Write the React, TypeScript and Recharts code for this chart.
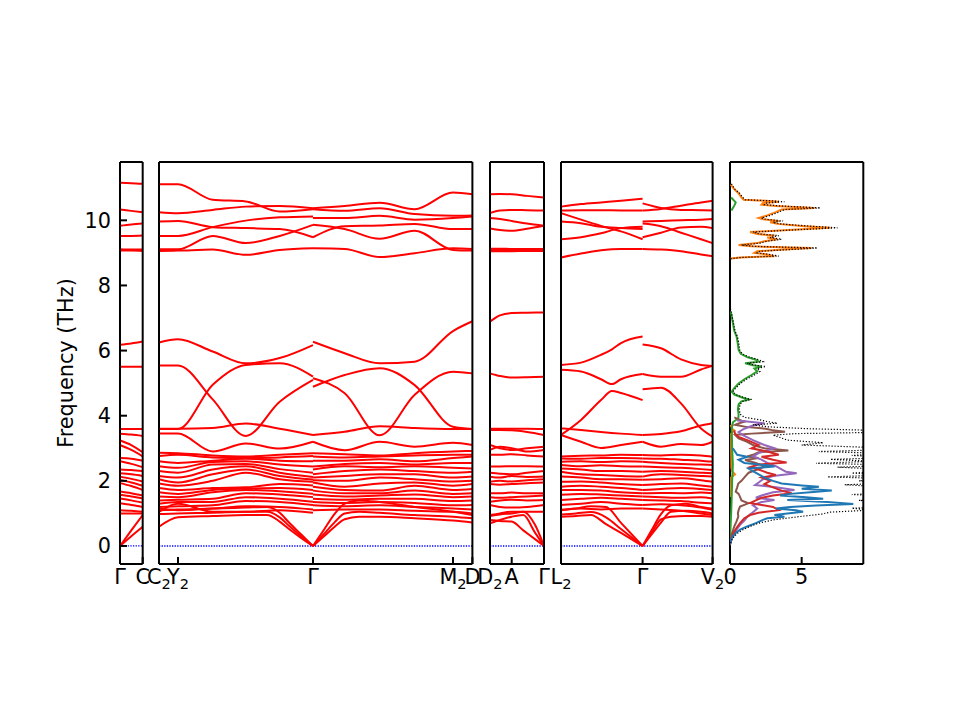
import React from 'react';
import { LineChart, Line, XAxis, YAxis, ReferenceLine, ScatterChart, Scatter } from 'recharts';

// Phonon band structure + projected DOS

const FONT = 'DejaVu Sans';
const FREQ_DOMAIN: [number, number] = [-0.553, 11.79];
const freqTicks = [0, 2, 4, 6, 8, 10];

// ---- panel 1 : Γ - C ----
const kP1 = [0, 0.113, 0.227];
const p1Ticks = [0, 0.227];
const p1Labels = ['Γ', 'C'];
const p1Bands = [
  [11.15, 11.14, 11.12],
  [10.33, 10.29, 10.25],
  [9.83, 9.87, 9.9],
  [9.52, 9.52, 9.53],
  [9.11, 9.1, 9.1],
  [9.07, 9.07, 9.06],
  [6.18, 6.22, 6.28],
  [5.5, 5.5, 5.5],
  [3.59, 3.59, 3.59],
  [3.45, 3.42, 3.38],
  [3.24, 3.1, 2.88],
  [3.1, 2.95, 2.75],
  [2.7, 2.68, 2.62],
  [2.6, 2.52, 2.42],
  [2.35, 2.33, 2.3],
  [2.23, 2.2, 2.15],
  [2.13, 2.06, 1.98],
  [2.03, 1.95, 1.85],
  [1.93, 1.84, 1.72],
  [1.67, 1.62, 1.55],
  [1.57, 1.52, 1.46],
  [1.46, 1.4, 1.33],
  [1.31, 1.26, 1.2],
  [1.1, 1.08, 1.05],
  [1.0, 1.0, 1.0],
  [0, 0.48, 0.95],
  [0, 0.3, 0.59],
];

// ---- panel 2 : C2 - Y2 - Γ - M2 - D ----
const p2Ticks = [0, 0.19, 1.54, 2.94, 3.134];
const p2Labels = ['C_2', 'Y_2', 'Γ', 'M_2', 'D'];
const kP2Left = [0, 0.19, 0.537, 0.867, 1.207, 1.54];
const p2LeftBands = [
  [11.11, 11.11, 10.63, 10.58, 10.27, 10.34],
  [10.25, 10.22, 10.32, 10.42, 10.44, 10.37],
  [9.96, 9.98, 9.79, 9.76, 9.73, 9.48],
  [9.52, 9.52, 9.79, 9.99, 10.09, 10.12],
  [9.11, 9.11, 9.52, 9.3, 9.52, 9.86],
  [9.06, 9.07, 9.1, 8.94, 9.09, 9.14],
  [6.25, 6.35, 5.97, 5.61, 5.77, 6.17],
  [5.54, 5.54, 4.5, 3.38, 4.43, 5.1],
  [3.59, 3.59, 4.95, 5.56, 5.61, 5.2],
  [3.6, 3.6, 3.62, 3.76, 3.6, 3.41],
  [3.45, 3.45, 2.9, 3.15, 2.99, 3.2],
  [2.86, 2.85, 2.78, 2.75, 2.8, 2.85],
  [2.76, 2.8, 2.72, 2.7, 2.72, 2.76],
  [2.6, 2.55, 2.62, 2.68, 2.62, 2.6],
  [2.45, 2.4, 2.58, 2.6, 2.5, 2.44],
  [2.3, 2.25, 2.5, 2.52, 2.36, 2.25],
  [2.15, 2.1, 2.35, 2.45, 2.25, 2.12],
  [2.05, 1.95, 2.2, 2.35, 2.15, 2.04],
  [1.92, 1.85, 2.0, 2.25, 2.05, 1.97],
  [1.78, 1.72, 1.78, 1.8, 1.9, 1.86],
  [1.65, 1.6, 1.72, 1.76, 1.78, 1.72],
  [1.52, 1.5, 1.65, 1.72, 1.68, 1.6],
  [1.4, 1.42, 1.45, 1.62, 1.58, 1.5],
  [1.3, 1.35, 1.35, 1.5, 1.45, 1.36],
  [1.2, 1.22, 1.25, 1.38, 1.35, 1.26],
  [1.1, 1.12, 1.15, 1.22, 1.2, 1.12],
  [1.05, 1.3, 1.05, 1.05, 1.1, 1.02],
];
const kP2LeftAcoustic = [0, 0.19, 0.537, 0.867, 1.08, 1.207, 1.3, 1.42, 1.54];
const p2LeftAcoustic = [
  [0.59, 0.88, 0.92, 0.95, 0.95, 0.75, 0.52, 0.25, 0],
  [0.98, 1.0, 1.02, 1.05, 1.05, 0.88, 0.62, 0.3, 0],
  [1.15, 1.1, 1.15, 1.18, 1.2, 1.02, 0.72, 0.36, 0],
];
const kP2Right = [1.54, 1.857, 2.207, 2.557, 2.94, 3.134];
const p2RightBands = [
  [10.37, 10.44, 10.54, 10.34, 10.85, 10.8],
  [10.34, 10.29, 10.37, 10.19, 10.14, 10.15],
  [10.07, 10.07, 10.14, 10.02, 10.07, 10.12],
  [9.48, 9.82, 9.84, 9.89, 9.73, 9.73],
  [9.86, 9.73, 9.43, 9.68, 9.09, 9.07],
  [9.14, 9.12, 8.87, 8.99, 9.14, 9.12],
  [6.27, 5.92, 5.61, 5.66, 6.6, 6.9],
  [5.15, 4.69, 3.4, 4.64, 5.35, 5.3],
  [4.89, 5.25, 5.46, 4.94, 3.66, 3.59],
  [3.41, 3.51, 3.68, 3.62, 3.59, 3.59],
  [3.2, 2.94, 3.2, 3.05, 3.17, 3.1],
  [2.85, 2.82, 2.78, 2.85, 2.9, 2.92],
  [2.75, 2.72, 2.75, 2.78, 2.8, 2.8],
  [2.62, 2.62, 2.66, 2.6, 2.7, 2.75],
  [2.44, 2.52, 2.55, 2.5, 2.55, 2.55],
  [2.35, 2.45, 2.42, 2.45, 2.4, 2.38],
  [2.2, 2.3, 2.35, 2.3, 2.25, 2.28],
  [2.1, 2.15, 2.2, 2.2, 2.1, 2.13],
  [2.02, 2.0, 2.1, 2.05, 1.98, 2.0],
  [1.95, 1.82, 1.92, 1.95, 1.85, 1.9],
  [1.82, 1.72, 1.7, 1.85, 1.72, 1.75],
  [1.7, 1.62, 1.62, 1.7, 1.6, 1.62],
  [1.58, 1.52, 1.55, 1.58, 1.5, 1.52],
  [1.45, 1.42, 1.45, 1.45, 1.38, 1.4],
  [1.35, 1.32, 1.35, 1.32, 1.25, 1.26],
  [1.25, 1.22, 1.25, 1.2, 1.15, 1.12],
  [1.1, 1.12, 1.12, 1.08, 1.05, 1.0],
];
const kP2RightAcoustic = [1.54, 1.65, 1.76, 1.857, 2.0, 2.207, 2.557, 2.94, 3.134];
const p2RightAcoustic = [
  [0, 0.3, 0.6, 0.82, 0.9, 0.9, 0.85, 0.78, 0.72],
  [0, 0.37, 0.74, 1.0, 1.05, 1.02, 0.95, 0.9, 0.85],
  [0, 0.5, 1.0, 1.3, 1.4, 1.35, 1.2, 1.05, 0.95],
];

// ---- panel 3 : D2 - A - Γ ----
const p3Ticks = [0, 0.217, 0.54];
const p3Labels = ['D_2', 'A', 'Γ'];
const kP3 = [0, 0.1, 0.217, 0.37, 0.54];
const p3Bands = [
  [10.8, 10.81, 10.8, 10.75, 10.7],
  [10.22, 10.3, 10.32, 10.31, 10.3],
  [10.07, 10.04, 9.98, 9.9, 9.83],
  [9.75, 9.7, 9.68, 9.74, 9.83],
  [9.13, 9.13, 9.12, 9.12, 9.12],
  [9.09, 9.09, 9.08, 9.09, 9.09],
  [9.05, 9.05, 9.05, 9.06, 9.06],
  [6.89, 7.08, 7.15, 7.16, 7.17],
  [5.3, 5.22, 5.17, 5.18, 5.2],
  [3.6, 3.6, 3.6, 3.6, 3.59],
  [3.56, 3.56, 3.55, 3.5, 3.41],
  [3.1, 3.0, 2.95, 3.0, 3.05],
  [2.95, 3.05, 3.0, 2.9, 2.95],
  [2.8, 2.8, 2.82, 2.78, 2.75],
  [2.44, 2.44, 2.45, 2.45, 2.44],
  [2.25, 2.22, 2.2, 2.25, 2.3],
  [2.13, 2.1, 2.15, 2.12, 2.13],
  [1.97, 2.0, 1.98, 2.02, 2.05],
  [1.9, 1.88, 1.9, 1.93, 1.95],
  [1.62, 1.62, 1.64, 1.62, 1.62],
  [1.5, 1.48, 1.5, 1.52, 1.55],
  [1.36, 1.4, 1.42, 1.4, 1.41],
  [1.26, 1.2, 1.18, 1.2, 1.26],
  [0.95, 1.0, 1.05, 1.05, 1.05],
];
const kP3Acoustic = [0, 0.1, 0.217, 0.333, 0.45, 0.54];
const p3Acoustic = [
  [0.8, 0.77, 0.75, 0.48, 0.21, 0],
  [0.7, 0.8, 0.9, 0.95, 0.41, 0],
  [0.92, 0.97, 1.0, 1.05, 0.65, 0],
];

// ---- panel 4 : L2 - Γ - V2 ----
const p4Ticks = [0, 0.816, 1.516];
const p4Labels = ['L_2', 'Γ', 'V_2'];
const kP4Left = [0, 0.2, 0.4, 0.6, 0.816];
const p4LeftBands = [
  [10.42, 10.5, 10.55, 10.6, 10.66],
  [10.3, 10.31, 10.31, 10.3, 10.3],
  [10.22, 10.02, 9.83, 9.66, 9.42],
  [9.96, 9.91, 9.8, 9.76, 9.73],
  [9.42, 9.48, 9.6, 9.76, 9.8],
  [8.86, 8.98, 9.08, 9.12, 9.12],
  [3.61, 3.56, 3.5, 3.45, 3.41],
  [3.41, 3.2, 3.01, 3.1, 3.2],
  [2.75, 2.77, 2.78, 2.8, 2.79],
  [2.69, 2.68, 2.7, 2.7, 2.69],
  [2.59, 2.6, 2.58, 2.6, 2.59],
  [2.49, 2.45, 2.48, 2.45, 2.44],
  [2.38, 2.35, 2.3, 2.3, 2.28],
  [2.28, 2.2, 2.18, 2.15, 2.13],
  [2.13, 2.1, 2.05, 2.05, 2.03],
  [1.97, 1.98, 1.95, 1.9, 1.87],
  [1.82, 1.85, 1.82, 1.78, 1.72],
  [1.72, 1.72, 1.7, 1.65, 1.62],
  [1.57, 1.6, 1.58, 1.55, 1.52],
  [1.41, 1.45, 1.48, 1.45, 1.41],
  [1.26, 1.3, 1.35, 1.3, 1.26],
  [1.11, 1.15, 1.12, 1.15, 1.15],
];
const kP4LeftMid = [0, 0.2, 0.4, 0.51, 0.6, 0.816];
const p4LeftMid = [
  [5.56, 5.63, 5.87, 6.04, 6.23, 6.43],
  [5.41, 5.36, 5.12, 4.97, 5.12, 5.28],
  [3.41, 3.87, 4.48, 4.76, 4.7, 4.48],
];
const kP4LeftAcoustic = [0, 0.15, 0.3, 0.45, 0.6, 0.816];
const p4LeftAcoustic = [
  [0.9, 0.92, 0.95, 0.67, 0.4, 0],
  [0.97, 1.0, 1.04, 0.88, 0.52, 0],
  [1.1, 1.15, 1.22, 1.2, 0.71, 0],
];
const kP4Right = [0.816, 1.0, 1.2, 1.4, 1.516];
const p4RightBands = [
  [10.52, 10.38, 10.32, 10.31, 10.3],
  [10.3, 10.35, 10.45, 10.55, 10.6],
  [9.96, 9.98, 10.0, 10.02, 10.04],
  [9.48, 9.62, 9.78, 9.8, 9.76],
  [9.9, 9.82, 9.62, 9.42, 9.3],
  [9.12, 9.1, 9.05, 8.95, 8.9],
  [6.19, 6.07, 5.73, 5.56, 5.53],
  [4.81, 4.86, 4.38, 3.61, 3.36],
  [5.28, 5.2, 5.2, 5.42, 5.53],
  [3.41, 3.44, 3.52, 3.7, 3.77],
  [3.2, 3.05, 3.13, 3.1, 3.2],
  [2.79, 2.78, 2.8, 2.78, 2.74],
  [2.69, 2.68, 2.65, 2.62, 2.59],
  [2.59, 2.55, 2.52, 2.5, 2.49],
  [2.44, 2.42, 2.4, 2.36, 2.33],
  [2.28, 2.3, 2.28, 2.25, 2.23],
  [2.13, 2.2, 2.18, 2.15, 2.13],
  [2.03, 2.05, 2.08, 2.02, 1.97],
  [1.87, 1.9, 1.92, 1.86, 1.82],
  [1.72, 1.75, 1.78, 1.75, 1.72],
  [1.62, 1.63, 1.62, 1.64, 1.62],
  [1.52, 1.5, 1.48, 1.5, 1.46],
  [1.41, 1.4, 1.38, 1.33, 1.31],
  [1.26, 1.28, 1.25, 1.18, 1.11],
  [1.15, 1.12, 1.08, 1.0, 0.95],
];
const kP4RightAcoustic = [0.816, 0.9, 1.0, 1.1, 1.25, 1.4, 1.516];
const p4RightAcoustic = [
  [0, 0.38, 0.82, 0.9, 0.92, 0.92, 0.9],
  [0, 0.33, 0.72, 1.05, 1.08, 1.05, 1.0],
  [0, 0.45, 0.98, 1.25, 1.3, 1.2, 1.15],
];

// ---- DOS panel: [frequency, dos] ----
const DOS_MAX = 9.3;
const dosTicks = [0, 5];
const dosLabels = ['0', '5'];
const dosTotal: [number, number][] = [
  [11.12, 0.1], [10.95, 0.35], [10.84, 0.65], [10.7, 0.9], [10.63, 1.05], [10.6, 2.8], [10.57, 3.8],
  [10.53, 2.5], [10.48, 2.4], [10.44, 3.5], [10.38, 6.3], [10.33, 3.8], [10.25, 3.4], [10.15, 2.8],
  [10.07, 2.2], [10.03, 2.5], [9.98, 3.7], [9.94, 3.0], [9.89, 3.5], [9.82, 5.6], [9.77, 7.5],
  [9.71, 4.7], [9.64, 1.6], [9.58, 2.1], [9.53, 3.4], [9.47, 2.8], [9.42, 3.6], [9.36, 2.6],
  [9.3, 2.1], [9.24, 0.8], [9.2, 1.7], [9.15, 6.1], [9.1, 4.1], [9.05, 2.1], [9.0, 1.9],
  [8.95, 2.8], [8.9, 3.4], [8.86, 0.8], [8.82, 0.05], [8.7, 0], [7.35, 0],
  [7.15, 0.1], [6.9, 0.22], [6.6, 0.35], [6.43, 0.52], [6.2, 0.62], [6.02, 0.68], [5.9, 0.85],
  [5.8, 1.35], [5.72, 2.0], [5.66, 2.3], [5.61, 1.2], [5.55, 1.8], [5.51, 2.5], [5.45, 1.9],
  [5.36, 2.1], [5.25, 1.7], [5.12, 1.15], [4.98, 0.7], [4.85, 0.4], [4.74, 0.2], [4.65, 0.4],
  [4.55, 1.0], [4.5, 1.5], [4.44, 0.9], [4.35, 0.7], [4.2, 0.65], [4.05, 0.7], [3.95, 1.0],
  [3.88, 2.0], [3.82, 2.6], [3.77, 3.3], [3.72, 1.6], [3.66, 2.6], [3.6, 5.5], [3.55, 10],
  [3.5, 12], [3.45, 4.5], [3.4, 3.0], [3.33, 3.5], [3.25, 4.0], [3.17, 6.5], [3.1, 5.0],
  [3.03, 9.5], [2.97, 12], [2.9, 6.2], [2.84, 11], [2.78, 8.5], [2.72, 12], [2.66, 7.0],
  [2.6, 10], [2.54, 6.0], [2.48, 12], [2.42, 7.5], [2.36, 10.5], [2.3, 12], [2.24, 8.5],
  [2.18, 11], [2.12, 6.8], [2.06, 12], [2.0, 9.0], [1.94, 12], [1.88, 8.0], [1.82, 10.5],
  [1.76, 12], [1.7, 9.5], [1.64, 12], [1.58, 8.5], [1.52, 11.5], [1.46, 12], [1.4, 9.0],
  [1.34, 12], [1.28, 10], [1.22, 12], [1.16, 8.5], [1.1, 9.8], [1.04, 7.0], [0.98, 6.4],
  [0.9, 4.8], [0.8, 3.0], [0.7, 2.0], [0.6, 1.4], [0.5, 0.9], [0.4, 0.55], [0.3, 0.3],
  [0.2, 0.15], [0.1, 0.05], [0, 0],
];
const pdosOrangeHigh: [number, number][] = [
  [11.1, 0.05], [10.95, 0.3], [10.84, 0.58], [10.7, 0.8], [10.63, 0.95], [10.6, 2.5], [10.57, 3.4],
  [10.53, 2.3], [10.48, 2.2], [10.44, 3.2], [10.38, 5.9], [10.33, 3.6], [10.25, 3.2], [10.15, 2.6],
  [10.07, 2.0], [10.03, 2.3], [9.98, 3.4], [9.94, 2.8], [9.89, 3.3], [9.82, 5.2], [9.77, 7.0],
  [9.71, 4.4], [9.64, 1.4], [9.58, 1.9], [9.53, 3.1], [9.47, 2.6], [9.42, 3.3], [9.36, 2.4],
  [9.3, 1.9], [9.24, 0.6], [9.2, 1.5], [9.15, 5.7], [9.1, 3.8], [9.05, 1.9], [9.0, 1.7],
  [8.95, 2.6], [8.9, 3.1], [8.86, 0.7], [8.83, 0.05],
];
const pdosOrangeLow: [number, number][] = [
  [3.72, 0.05], [3.6, 0.15], [3.55, 0.3], [3.45, 0.08], [3.0, 0.08], [2.4, 0.1], [2.3, 0.15],
  [2.2, 0.35], [2.1, 0.08], [1.5, 0.06],
];
const pdosGreenHigh: [number, number][] = [
  [10.7, 0.08], [10.55, 0.4], [10.45, 0.3], [10.3, 0.1],
];
const pdosGreen: [number, number][] = [
  [7.2, 0.03], [7.15, 0.08],
  [6.9, 0.18], [6.6, 0.3], [6.43, 0.46], [6.2, 0.55], [6.02, 0.6], [5.9, 0.75], [5.8, 1.2],
  [5.72, 1.8], [5.66, 2.0], [5.61, 1.05], [5.55, 1.6], [5.51, 2.2], [5.45, 1.7], [5.36, 1.9],
  [5.25, 1.5], [5.12, 1.0], [4.98, 0.58], [4.85, 0.3], [4.74, 0.12], [4.65, 0.3], [4.55, 0.9],
  [4.5, 1.3], [4.44, 0.8], [4.35, 0.6], [4.2, 0.55], [4.05, 0.6], [3.92, 0.58], [3.8, 0.2],
  [3.6, 0.12], [3.0, 0.15], [2.5, 0.2], [2.0, 0.15], [1.5, 0.12], [1.0, 0.08], [0.5, 0.03], [0, 0],
];
const pdosBlue: [number, number][] = [
  [3.0, 0.2], [2.8, 0.5], [2.74, 1.2], [2.65, 0.6], [2.55, 1.0], [2.48, 2.6], [2.44, 3.1],
  [2.38, 1.3], [2.3, 1.6], [2.2, 2.0], [2.1, 2.4], [2.0, 3.0], [1.92, 3.6], [1.86, 5.0],
  [1.82, 6.2], [1.76, 5.0], [1.7, 7.1], [1.65, 5.6], [1.6, 4.2], [1.55, 3.5], [1.5, 5.3],
  [1.45, 6.5], [1.41, 4.0], [1.35, 6.8], [1.29, 8.6], [1.24, 6.0], [1.2, 4.2], [1.15, 3.2],
  [1.1, 4.6], [1.05, 5.1], [1.0, 4.0], [0.95, 3.1], [0.9, 3.8], [0.85, 2.6], [0.8, 2.3],
  [0.7, 1.8], [0.6, 1.2], [0.5, 0.7], [0.4, 0.4], [0.3, 0.2], [0.2, 0.08], [0.05, 0],
];
const pdosRed: [number, number][] = [
  [3.55, 0.3], [3.45, 0.35], [3.35, 0.6], [3.25, 1.2], [3.1, 2.0], [3.0, 1.5], [2.9, 2.6],
  [2.8, 3.4], [2.74, 2.2], [2.65, 3.0], [2.56, 3.95], [2.5, 2.0], [2.42, 1.4], [2.35, 2.0],
  [2.25, 2.6], [2.18, 3.2], [2.1, 2.2], [2.0, 2.8], [1.9, 2.4], [1.8, 3.0], [1.7, 3.6],
  [1.62, 4.3], [1.55, 3.0], [1.48, 2.2], [1.4, 1.8], [1.32, 1.4], [1.26, 2.2], [1.2, 3.0],
  [1.1, 3.4], [1.02, 2.0], [0.95, 1.4], [0.85, 1.0], [0.7, 0.7], [0.55, 0.45], [0.4, 0.25],
  [0.2, 0.08], [0.05, 0],
];
const pdosPurple: [number, number][] = [
  [3.85, 0.5], [3.77, 2.4], [3.7, 1.6], [3.6, 1.0], [3.5, 0.6], [3.4, 0.9], [3.25, 1.6],
  [3.1, 2.4], [3.0, 3.1], [2.9, 2.3], [2.85, 2.0], [2.75, 1.6], [2.65, 2.2], [2.55, 2.6],
  [2.45, 3.2], [2.35, 3.6], [2.28, 3.9], [2.23, 4.65], [2.15, 3.0], [2.05, 2.3], [1.95, 2.0],
  [1.87, 1.75], [1.8, 3.2], [1.72, 4.5], [1.65, 3.0], [1.55, 2.2], [1.48, 1.8], [1.41, 3.1],
  [1.35, 2.2], [1.25, 1.6], [1.15, 1.9], [1.0, 1.5], [0.9, 1.2], [0.8, 1.05], [0.65, 0.7],
  [0.5, 0.45], [0.4, 0.35], [0.25, 0.15], [0.05, 0],
];
const pdosBrown: [number, number][] = [
  [3.95, 0.3], [3.85, 0.8], [3.82, 1.05], [3.75, 0.5], [3.72, 0.35], [3.65, 1.2], [3.6, 2.5],
  [3.55, 3.0], [3.51, 3.84], [3.45, 1.5], [3.41, 0.35], [3.3, 0.6], [3.2, 1.2], [3.1, 1.6],
  [3.0, 2.4], [2.93, 4.07], [2.88, 2.0], [2.8, 1.6], [2.75, 1.2], [2.7, 2.0], [2.64, 1.05],
  [2.55, 1.8], [2.44, 2.44], [2.35, 1.9], [2.25, 1.3], [2.13, 1.05], [2.0, 0.8], [1.92, 0.58],
  [1.8, 0.5], [1.67, 0.4], [1.6, 0.6], [1.51, 0.7], [1.4, 0.8], [1.31, 1.28], [1.21, 0.7],
  [1.1, 0.6], [1.0, 0.55], [0.9, 0.58], [0.75, 0.45], [0.6, 0.3], [0.4, 0.15], [0.2, 0.05], [0, 0],
];

// ---- layout ----
const PX_PER_K = 100;
const PANEL_TOP = 162;
const PANEL_H = 402;
const PAD = { top: 10, right: 20, bottom: 40 };
const AX = 1; // axis box thickness (recharts skips zero-sized axes)
const frame = { stroke: '#000', strokeWidth: 2 };

type Group = { ks: number[]; bands: number[][] };

const renderKTick = (props: any, ticks: number[], labels: string[]) => {
  const { x, y, payload } = props;
  const name = labels[ticks.indexOf(payload.value)] ?? '';
  const [base, sub] = name.split('_');
  return (
    <text x={x} y={y + 20} textAnchor="middle" fontSize={20.8} fontFamily={FONT} fill="#000">
      {base}
      {sub && <tspan fontSize={14.6} dy={5}>{sub}</tspan>}
    </text>
  );
};

const chartMargin = (left: number) => ({
  top: PAD.top - AX,
  right: PAD.right - AX,
  bottom: PAD.bottom - AX,
  left: left - AX,
});

function BandPanel({ left, kEnd, ticks, labels, groups, yLabels = false }: {
  left: number; kEnd: number; ticks: number[]; labels: string[]; groups: Group[]; yLabels?: boolean;
}) {
  const mLeft = yLabels ? 80 : 20;
  const w = kEnd * PX_PER_K;
  return (
    <div style={{ position: 'absolute', left: left - mLeft, top: PANEL_TOP - PAD.top }}>
      <LineChart
        width={w + mLeft + PAD.right}
        height={PANEL_H + PAD.top + PAD.bottom}
        margin={chartMargin(mLeft)}
      >
        <XAxis xAxisId="b" type="number" dataKey="k" domain={[0, kEnd]} ticks={ticks} interval={0}
          allowDataOverflow height={AX} tickSize={-7} tickMargin={7} axisLine={frame} tickLine={frame}
          tick={(p: any) => renderKTick(p, ticks, labels)} />
        <XAxis xAxisId="t" orientation="top" type="number" dataKey="k" domain={[0, kEnd]} ticks={ticks}
          interval={0} allowDataOverflow height={AX} tickSize={-7} axisLine={frame} tickLine={frame} tick={false} />
        <YAxis yAxisId="l" type="number" domain={FREQ_DOMAIN} ticks={freqTicks} interval={0} allowDataOverflow
          width={AX} tickSize={-7} tickMargin={16} axisLine={frame} tickLine={frame}
          tick={yLabels ? { fill: '#000', fontSize: 20.8, fontFamily: FONT } : false} />
        <YAxis yAxisId="r" orientation="right" type="number" domain={FREQ_DOMAIN} ticks={freqTicks} interval={0}
          allowDataOverflow width={AX} tickSize={-7} axisLine={frame} tickLine={frame} tick={false} />
        <ReferenceLine xAxisId="b" yAxisId="l" y={0} stroke="#0000ff" strokeWidth={1.3} strokeDasharray="1.3 1.3" />
        {groups.flatMap((g, gi) =>
          g.bands.map((band, bi) => (
            <Line
              key={`${gi}-${bi}`}
              xAxisId="b"
              yAxisId="l"
              data={g.ks.map((k, i) => ({ k, f: band[i] }))}
              dataKey="f"
              type="monotone"
              stroke="#ff0000"
              strokeWidth={2}
              dot={false}
              activeDot={false}
              isAnimationActive={false}
            />
          ))
        )}
      </LineChart>
    </div>
  );
}

const pdosSeries = [
  { key: 'orangeHigh', pts: pdosOrangeHigh, color: '#ff7f0e' },
  { key: 'orangeLow', pts: pdosOrangeLow, color: '#ff7f0e' },
  { key: 'greenHigh', pts: pdosGreenHigh, color: '#2ca02c' },
  { key: 'green', pts: pdosGreen, color: '#2ca02c' },
  { key: 'brown', pts: pdosBrown, color: '#8c564b' },
  { key: 'purple', pts: pdosPurple, color: '#9467bd' },
  { key: 'red', pts: pdosRed, color: '#d62728' },
  { key: 'blue', pts: pdosBlue, color: '#1f77b4' },
];

const noShape = () => null;

function DosPanel({ left, width }: { left: number; width: number }) {
  const mLeft = 20;
  return (
    <div style={{ position: 'absolute', left: left - mLeft, top: PANEL_TOP - PAD.top }}>
      <ScatterChart
        width={width + mLeft + PAD.right}
        height={PANEL_H + PAD.top + PAD.bottom}
        margin={chartMargin(mLeft)}
      >
        <XAxis xAxisId="b" type="number" dataKey="d" domain={[0, DOS_MAX]} ticks={dosTicks} interval={0}
          allowDataOverflow height={AX} tickSize={-7} tickMargin={7} axisLine={frame} tickLine={frame}
          tick={(p: any) => renderKTick(p, dosTicks, dosLabels)} />
        <XAxis xAxisId="t" orientation="top" type="number" dataKey="d" domain={[0, DOS_MAX]} ticks={dosTicks}
          interval={0} allowDataOverflow height={AX} tickSize={-7} axisLine={frame} tickLine={frame} tick={false} />
        <YAxis yAxisId="l" type="number" dataKey="f" domain={FREQ_DOMAIN} ticks={freqTicks} interval={0}
          allowDataOverflow width={AX} tickSize={-7} axisLine={frame} tickLine={frame} tick={false} />
        <YAxis yAxisId="r" orientation="right" type="number" dataKey="f" domain={FREQ_DOMAIN} ticks={freqTicks}
          interval={0} allowDataOverflow width={AX} tickSize={-7} axisLine={frame} tickLine={frame} tick={false} />
        {pdosSeries.map((s) => (
          <Scatter
            key={s.key}
            xAxisId="b"
            yAxisId="l"
            data={s.pts.map(([f, d]) => ({ f, d }))}
            fill={s.color}
            line={{ stroke: s.color, strokeWidth: 2 }}
            lineJointType="linear"
            shape={noShape}
            isAnimationActive={false}
          />
        ))}
        <Scatter
          xAxisId="b"
          yAxisId="l"
          data={dosTotal.map(([f, d]) => ({ f, d }))}
          fill="#000"
          line={{ stroke: '#000', strokeWidth: 1.2, strokeDasharray: '1.2 1.8' }}
          lineJointType="linear"
          shape={noShape}
          isAnimationActive={false}
        />
      </ScatterChart>
    </div>
  );
}

export default function App() {
  return (
    <div style={{ position: 'absolute', left: 0, top: 0, width: 960, height: 720, background: '#fff', fontFamily: FONT }}>
      <svg style={{ position: 'absolute', left: 0, top: 0 }} width={100} height={720}>
        <text x={73} y={363} transform="rotate(-90 73 363)" textAnchor="middle" fontSize={20.8} fontFamily={FONT} fill="#000">
          Frequency (THz)
        </text>
      </svg>
      <BandPanel left={120} kEnd={0.227} ticks={p1Ticks} labels={p1Labels} yLabels
        groups={[{ ks: kP1, bands: p1Bands }]} />
      <BandPanel left={159.3} kEnd={3.134} ticks={p2Ticks} labels={p2Labels}
        groups={[
          { ks: kP2Left, bands: p2LeftBands },
          { ks: kP2LeftAcoustic, bands: p2LeftAcoustic },
          { ks: kP2Right, bands: p2RightBands },
          { ks: kP2RightAcoustic, bands: p2RightAcoustic },
        ]} />
      <BandPanel left={490} kEnd={0.54} ticks={p3Ticks} labels={p3Labels}
        groups={[
          { ks: kP3, bands: p3Bands },
          { ks: kP3Acoustic, bands: p3Acoustic },
        ]} />
      <BandPanel left={560.7} kEnd={1.516} ticks={p4Ticks} labels={p4Labels}
        groups={[
          { ks: kP4Left, bands: p4LeftBands },
          { ks: kP4LeftMid, bands: p4LeftMid },
          { ks: kP4LeftAcoustic, bands: p4LeftAcoustic },
          { ks: kP4Right, bands: p4RightBands },
          { ks: kP4RightAcoustic, bands: p4RightAcoustic },
        ]} />
      <DosPanel left={730} width={133.3} />
    </div>
  );
}
